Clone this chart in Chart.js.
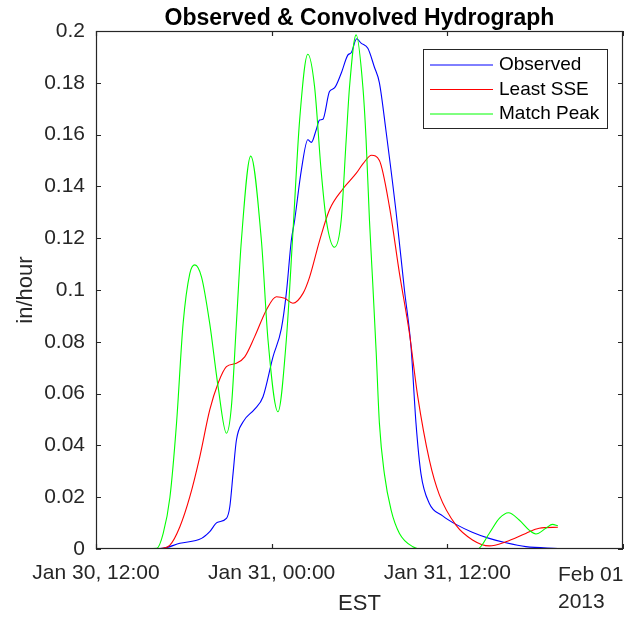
<!DOCTYPE html>
<html>
<head>
<meta charset="utf-8">
<script src="https://cdn.jsdelivr.net/npm/chart.js@4.4.0/dist/chart.umd.min.js"></script>
<style>
  html, body { margin: 0; padding: 0; background: #fff; }
  canvas { display: block; }
</style>
</head>
<body>
<canvas id="hydroChart" width="624" height="617"></canvas>
<script>
// hours after Jan 30 2013, 12:00 EST
const obsHours = [2.66, 4.57, 5.73, 7.21, 7.77, 8.27, 8.91, 9.14, 9.36, 9.59, 10.04, 10.84, 11.41, 12.09, 12.66, 13.0, 13.34, 13.57, 14.02, 14.47, 14.71, 15.04, 15.27, 15.5, 15.95, 16.29, 16.75, 17.2, 17.43, 17.81, 18.11, 18.57, 19.02, 19.36, 19.82, 20.5, 21.07, 21.52, 21.86, 22.2, 22.77, 23.68, 24.59, 25.7, 26.86, 28.0, 29.36, 31.55];
const obsFlow = [0, 0.0003, 0.0022, 0.0041, 0.0067, 0.0102, 0.0118, 0.0163, 0.029, 0.042, 0.049, 0.054, 0.0588, 0.0742, 0.085, 0.0987, 0.119, 0.127, 0.146, 0.158, 0.157, 0.1618, 0.1656, 0.1659, 0.1766, 0.178, 0.1837, 0.1907, 0.1916, 0.197, 0.1953, 0.1933, 0.186, 0.18, 0.161, 0.13, 0.1, 0.078, 0.0485, 0.029, 0.0176, 0.0128, 0.0095, 0.0065, 0.0041, 0.0024, 0.0009, 0.0002];

const sseHours = [2.66, 4.36, 5.05, 5.73, 6.41, 7.09, 7.77, 8.34, 8.91, 9.59, 10.16, 10.84, 11.64, 12.32, 12.89, 13.45, 14.14, 14.59, 15.27, 15.95, 16.86, 17.77, 18.27, 18.82, 19.36, 20.05, 20.73, 21.41, 21.98, 22.77, 23.45, 24.59, 25.72, 26.86, 28.0, 29.36, 30.27, 31.55];
const sseFlow = [0, 0.0002, 0.0015, 0.0086, 0.0202, 0.0356, 0.0537, 0.064, 0.0704, 0.0717, 0.0742, 0.082, 0.0923, 0.0974, 0.0968, 0.0949, 0.0987, 0.105, 0.119, 0.131, 0.139, 0.145, 0.149, 0.152, 0.150, 0.132, 0.1064, 0.0833, 0.0588, 0.0344, 0.021, 0.0092, 0.0035, 0.0012, 0.0028, 0.006, 0.008, 0.0084];

const peakHours = [2.66, 4.16, 4.59, 5.05, 5.5, 5.95, 6.41, 6.75, 7.21, 7.77, 8.34, 8.91, 9.25, 9.59, 9.93, 10.57, 11.3, 11.75, 12.43, 13.0, 13.45, 13.91, 14.47, 14.93, 15.38, 15.73, 16.29, 16.75, 17.09, 17.32, 17.77, 18.23, 18.45, 18.68, 18.91, 19.14, 19.36, 19.7, 20.16, 20.73, 21.64, 22.3, 26.05, 26.86, 27.55, 28.18, 28.91, 29.59, 30.05, 30.73, 31.18, 31.55];
const peakFlow = [0, 0.0003, 0.006, 0.020, 0.0485, 0.087, 0.1064, 0.1097, 0.105, 0.087, 0.0627, 0.0447, 0.055, 0.087, 0.119, 0.1517, 0.119, 0.0807, 0.053, 0.0807, 0.122, 0.1656, 0.191, 0.1785, 0.146, 0.127, 0.1165, 0.127, 0.158, 0.1785, 0.1985, 0.1785, 0.158, 0.127, 0.102, 0.076, 0.0485, 0.029, 0.015, 0.006, 0.0009, 0, 0, 0.006, 0.0118, 0.014, 0.0112, 0.0073, 0.0058, 0.008, 0.0095, 0.009];

const seriesNames = ['Observed', 'Least SSE', 'Match Peak'];
const tickHours = [0, 12, 24, 36];
const tickLabels = ['Jan 30, 12:00', 'Jan 31, 00:00', 'Jan 31, 12:00', 'Feb 01'];
const yearLabel = '2013';

const axisColor = '#262626';
const fontFamily = '"Liberation Sans", Arial, Helvetica, sans-serif';

const toPoints = (hours, flow) => hours.map((h, i) => ({ x: h, y: flow[i] }));

// matlab style box, inward ticks, title, legend and the last date label
const matlabFrame = {
    id: 'matlabFrame',
    afterDraw(chart) {
        const { ctx, chartArea: a, scales: { x, y } } = chart;
        ctx.save();
        ctx.strokeStyle = axisColor;
        ctx.lineWidth = 1.2;
        ctx.strokeRect(a.left + 0.5, a.top + 0.5, a.right - a.left - 1, a.bottom - a.top - 1);

        ctx.beginPath();
        tickHours.forEach(v => {
            const px = Math.round(x.getPixelForValue(v)) + 0.5;
            ctx.moveTo(px, a.bottom); ctx.lineTo(px, a.bottom - 5);
            ctx.moveTo(px, a.top); ctx.lineTo(px, a.top + 5);
        });
        y.ticks.forEach(t => {
            const py = Math.round(y.getPixelForValue(t.value)) + 0.5;
            ctx.moveTo(a.left, py); ctx.lineTo(a.left + 5, py);
            ctx.moveTo(a.right, py); ctx.lineTo(a.right - 5, py);
        });
        ctx.stroke();

        // last date label is pushed inside the figure, year below it
        ctx.fillStyle = axisColor;
        ctx.font = '21px ' + fontFamily;
        ctx.textAlign = 'left';
        ctx.textBaseline = 'alphabetic';
        const lastX = a.right - 65;
        ctx.fillText(tickLabels[tickLabels.length - 1], lastX, a.bottom + 32);
        ctx.fillText(yearLabel, lastX, a.bottom + 59);

        // title centred over the axes
        ctx.fillStyle = '#000';
        ctx.font = 'bold 23px ' + fontFamily;
        ctx.textAlign = 'center';
        ctx.fillText('Observed & Convolved Hydrograph', (a.left + a.right) / 2, 25);

        // legend box
        const bx = a.right - 200, by = a.top + 18, bw = 184, bh = 79;
        ctx.fillStyle = '#fff';
        ctx.fillRect(bx, by, bw, bh);
        ctx.lineWidth = 1;
        ctx.strokeStyle = axisColor;
        ctx.strokeRect(bx + 0.5, by + 0.5, bw, bh);
        ctx.font = '19px ' + fontFamily;
        ctx.textAlign = 'left';
        ctx.textBaseline = 'middle';
        chart.data.datasets.forEach((ds, i) => {
            const ry = by + 16 + i * 24.5;
            ctx.strokeStyle = ds.borderColor;
            ctx.lineWidth = 1;
            ctx.beginPath();
            ctx.moveTo(bx + 7, ry); ctx.lineTo(bx + 70, ry);
            ctx.stroke();
            ctx.fillStyle = '#000';
            ctx.fillText(ds.label, bx + 76, ry);
        });
        ctx.restore();
    }
};

new Chart(document.getElementById('hydroChart').getContext('2d'), {
    type: 'line',
    data: {
        datasets: [
            { label: seriesNames[0], data: toPoints(obsHours, obsFlow), borderColor: '#0000ff', order: 3 },
            { label: seriesNames[1], data: toPoints(sseHours, sseFlow), borderColor: '#ff0000', order: 2 },
            { label: seriesNames[2], data: toPoints(peakHours, peakFlow), borderColor: '#00ff00', order: 1 }
        ]
    },
    options: {
        responsive: false,
        animation: false,
        devicePixelRatio: 1,
        layout: { padding: { top: 31, right: 1, left: 0, bottom: 0 } },
        elements: {
            point: { radius: 0 },
            line: { borderWidth: 1.1, cubicInterpolationMode: 'monotone', fill: false }
        },
        plugins: {
            legend: { display: false },
            title: { display: false },
            tooltip: { enabled: false }
        },
        scales: {
            x: {
                type: 'linear',
                position: 'bottom',
                min: 0,
                max: 36,
                afterBuildTicks: s => { s.ticks = tickHours.map(v => ({ value: v })); },
                afterFit: s => { s.height = 68; s.paddingLeft = 0; s.paddingRight = 0; },
                grid: { display: false, drawTicks: false },
                border: { display: false },
                ticks: {
                    autoSkip: false,
                    maxRotation: 0,
                    padding: 12,
                    color: axisColor,
                    font: { family: fontFamily, size: 21 },
                    callback: v => {
                        const i = tickHours.indexOf(v);
                        return i >= 0 && i < tickLabels.length - 1 ? tickLabels[i] : '';
                    }
                },
                title: {
                    display: true,
                    text: 'EST',
                    color: axisColor,
                    font: { family: fontFamily, size: 22, lineHeight: 1 },
                    padding: { top: 0, bottom: 2 }
                }
            },
            y: {
                min: 0,
                max: 0.2,
                afterFit: s => { s.width = 96; },
                grid: { display: false, drawTicks: false },
                border: { display: false },
                ticks: {
                    stepSize: 0.02,
                    padding: 11,
                    color: axisColor,
                    font: { family: fontFamily, size: 21 },
                    callback: v => String(+v.toFixed(2))
                },
                title: {
                    display: true,
                    text: 'in/hour',
                    color: axisColor,
                    font: { family: fontFamily, size: 22, lineHeight: 1 },
                    padding: { top: 15, bottom: 0 }
                }
            }
        }
    },
    plugins: [matlabFrame]
});
</script>
</body>
</html>
